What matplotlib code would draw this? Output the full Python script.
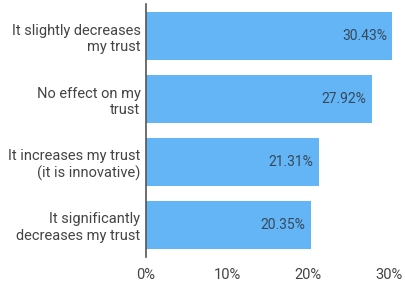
import matplotlib
matplotlib.use("Agg")
import matplotlib.pyplot as plt
from matplotlib.ticker import FuncFormatter

# survey answers, top to bottom
labels = [
    "It slightly decreases\nmy trust",
    "No effect on my\ntrust",
    "It increases my trust\n(it is innovative)",
    "It significantly\ndecreases my trust",
]
percent = [30.43, 27.92, 21.31, 20.35]
ticks = [0, 10, 20, 30]

plt.rcParams['font.family'] = ['Roboto', 'DejaVu Sans']

fig = plt.figure(figsize=(4.05, 2.81), dpi=100)
ax = fig.add_axes([0.3605, 0.0854, 0.612, 0.9004])

pos = list(range(len(labels)))
bars = ax.barh(pos, percent, height=0.766, color='#64b5f6')

for b, v in zip(bars, percent):
    ax.annotate("{:.2f}%".format(v), xy=(b.get_width(), b.get_y() + b.get_height() / 2),
                xytext=(-4, 0), textcoords='offset points',
                ha='right', va='center', fontsize=10, color='#37485a')

ax.set_yticks(pos)
ax.set_yticklabels(labels, fontsize=10.5, color='#444444', linespacing=1.25)
ax.set_ylim(3.511, -0.511)
ax.set_xlim(0, 30.6)
ax.set_xticks(ticks)
ax.xaxis.set_major_formatter(FuncFormatter(lambda x, p: "{:d}%".format(int(x))))
ax.tick_params(axis='x', length=0, pad=8, labelsize=10.5, labelcolor='#444444')
ax.tick_params(axis='y', length=0, pad=4)

for s in ['top', 'right', 'bottom']:
    ax.spines[s].set_visible(False)
ax.spines['left'].set_color('#555555')
ax.spines['left'].set_linewidth(1.2)

fig.savefig("out.png", dpi=100)
